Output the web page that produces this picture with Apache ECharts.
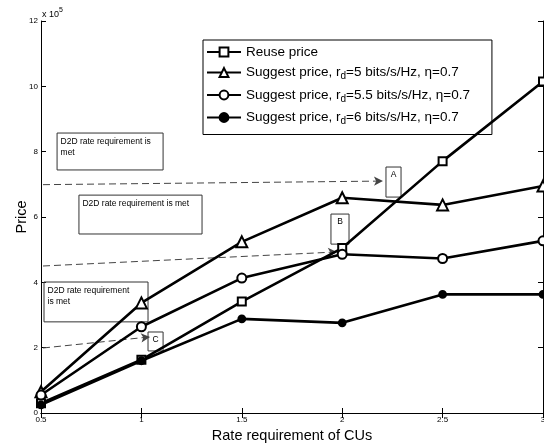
<!DOCTYPE html>
<html><head><meta charset="utf-8">
<script src="https://cdn.jsdelivr.net/npm/echarts@6/dist/echarts.min.js"></script>
<style>html,body{margin:0;padding:0;background:#fff}#c{width:544px;height:446px}</style>
</head><body><div id="c"></div>
<script>
const xVals = [0.5, 1, 1.5, 2, 2.5, 3];
const reusePrice = [0.3, 1.63, 3.41, 5.05, 7.71, 10.15];
const suggest5 = [0.65, 3.37, 5.24, 6.59, 6.37, 6.95];
const suggest55 = [0.55, 2.64, 4.13, 4.86, 4.73, 5.27];
const suggest6 = [0.25, 1.6, 2.88, 2.76, 3.63, 3.63];
const seriesNames = ['Reuse price', 'Suggest price, r{sub|d}=5 bits/s/Hz, η=0.7', 'Suggest price, r{sub|d}=5.5 bits/s/Hz, η=0.7', 'Suggest price, r{sub|d}=6 bits/s/Hz, η=0.7'];
const yTicks = [0, 2, 4, 6, 8, 10, 12];

const pairs = arr => xVals.map((x, i) => [x, arr[i]]);
const F = 'Liberation Sans, Arial, sans-serif';

const chart = echarts.init(document.getElementById('c'));
const lineBase = {type: 'line', lineStyle: {color: '#000', width: 2.6}, itemStyle: {color: '#000', borderColor: '#000', borderWidth: 1.8}, z: 5};
const boxStyle = {color: 'rgba(255,255,255,0)', borderColor: '#333', borderWidth: 1};
const boxLabel = {show: true, position: 'insideTopLeft', color: '#000', fontSize: 8.5, fontFamily: F, lineHeight: 11, distance: 4};
const letterLabel = {show: true, position: 'insideTop', color: '#000', fontSize: 8.5, fontFamily: F, distance: 4};

chart.setOption({
  animation: false,
  backgroundColor: '#fff',
  textStyle: {fontFamily: F},
  grid: {left: 41, right: 1, top: 21, bottom: 33, outerBoundsMode: 'none', containLabel: false},
  legend: {
    orient: 'vertical', left: 203, top: 40,
    backgroundColor: '#fff', borderColor: '#000', borderWidth: 1,
    padding: [5, 22, 8, 3], itemGap: 6.5, itemWidth: 34, itemHeight: 11,
    textStyle: {fontSize: 13.5, color: '#000', fontFamily: F, rich: {sub: {fontSize: 10, verticalAlign: 'bottom', padding: [8, 0, 0, 0], color: '#000'}}},
    data: seriesNames
  },
  graphic: [{type: 'text', left: 42, top: 10, style: {text: 'x 10', fill: '#000', font: '9px ' + F}},
            {type: 'text', left: 59, top: 7, style: {text: '5', fill: '#000', font: '7px ' + F}}],
  xAxis: [{
    type: 'value', min: 0.5, max: 3, interval: 0.5,
    name: 'Rate requirement of CUs', nameLocation: 'middle', nameGap: 15, nameMoveOverlap: false,
    nameTextStyle: {fontSize: 14.5, color: '#000', fontFamily: F},
    axisLine: {lineStyle: {color: '#000', width: 1}},
    axisTick: {inside: true, length: 5, lineStyle: {color: '#000'}},
    axisLabel: {fontSize: 8, color: '#000', margin: 3, fontFamily: F},
    splitLine: {show: false}
  }, {
    type: 'value', position: 'top', min: 0.5, max: 3, interval: 0.5,
    axisLine: {show: true, lineStyle: {color: '#000', width: 1}},
    axisTick: {inside: true, length: 5, lineStyle: {color: '#000'}},
    axisLabel: {show: false}, splitLine: {show: false}
  }],
  yAxis: [{
    type: 'value', min: yTicks[0], max: yTicks[yTicks.length - 1], interval: 2,
    name: 'Price', nameLocation: 'middle', nameGap: 12, nameMoveOverlap: false,
    nameTextStyle: {fontSize: 14.5, color: '#000', fontFamily: F},
    axisLine: {show: true, lineStyle: {color: '#000', width: 1}},
    axisTick: {inside: true, length: 5, lineStyle: {color: '#000'}},
    axisLabel: {fontSize: 8, color: '#000', margin: 3, fontFamily: F},
    splitLine: {show: false}
  }, {
    type: 'value', position: 'right', min: 0, max: 12, interval: 2,
    axisLine: {show: true, lineStyle: {color: '#000', width: 1}},
    axisTick: {inside: true, length: 5, lineStyle: {color: '#000'}},
    axisLabel: {show: false}, splitLine: {show: false}
  }],
  series: [
    Object.assign({}, lineBase, {name: seriesNames[0], data: pairs(reusePrice), symbol: 'emptyRect', symbolSize: 8,
      markArea: {silent: true, z: 1, data: [
        [{coord: [0.58, 8.57], itemStyle: boxStyle, label: Object.assign({}, boxLabel, {formatter: 'D2D rate requirement is\nmet'})}, {coord: [1.108, 7.44]}],
        [{coord: [0.689, 6.67], itemStyle: boxStyle, label: Object.assign({}, boxLabel, {formatter: 'D2D rate requirement is met'})}, {coord: [1.302, 5.48]}],
        [{coord: [0.515, 4.01], itemStyle: boxStyle, label: Object.assign({}, boxLabel, {formatter: 'D2D rate requirement\nis met'})}, {coord: [1.033, 2.79]}],
        [{coord: [2.218, 7.53], itemStyle: boxStyle, label: Object.assign({}, letterLabel, {formatter: 'A'})}, {coord: [2.293, 6.61]}],
        [{coord: [1.944, 6.09], itemStyle: boxStyle, label: Object.assign({}, letterLabel, {formatter: 'B'})}, {coord: [2.034, 5.17]}],
        [{coord: [1.033, 2.48], itemStyle: boxStyle, label: Object.assign({}, letterLabel, {formatter: 'C'})}, {coord: [1.108, 1.90]}]
      ]},
      markLine: {silent: true, symbol: ['none', 'arrow'], symbolSize: [7, 9], label: {show: false},
        lineStyle: {color: '#444', type: [7, 4], width: 1},
        data: [
          [{coord: [0.51, 6.99]}, {coord: [2.203, 7.10]}],
          [{coord: [0.51, 4.50]}, {coord: [1.974, 4.93]}],
          [{coord: [0.51, 1.99]}, {coord: [1.043, 2.33]}]
        ]}
    }),
    Object.assign({}, lineBase, {name: seriesNames[1], data: pairs(suggest5), symbol: 'emptyTriangle', symbolSize: 11}),
    Object.assign({}, lineBase, {name: seriesNames[2], data: pairs(suggest55), symbol: 'emptyCircle', symbolSize: 9}),
    Object.assign({}, lineBase, {name: seriesNames[3], data: pairs(suggest6), symbol: 'circle', symbolSize: 7})
  ]
});
</script></body></html>
